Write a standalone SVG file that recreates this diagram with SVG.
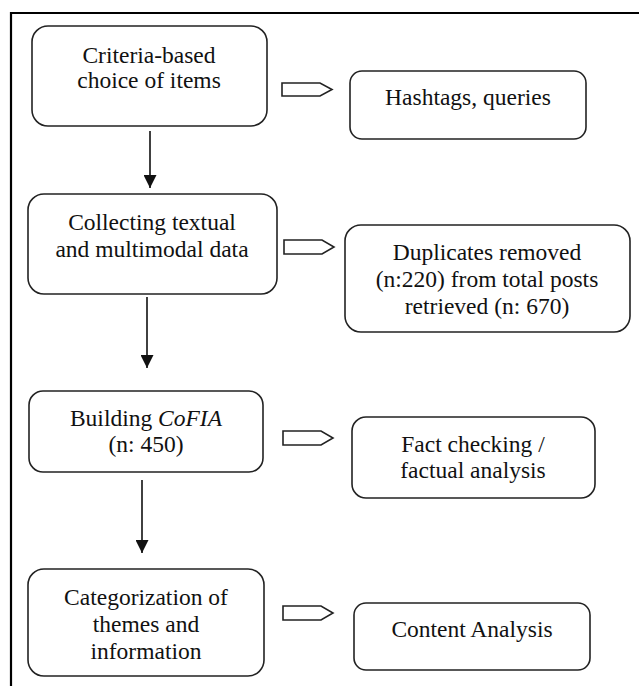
<svg xmlns="http://www.w3.org/2000/svg" width="639" height="686" viewBox="0 0 639 686">
<defs>
<style>
.box{fill:#fff;stroke:#222;stroke-width:1.6}
.blk{fill:#fff;stroke:#222;stroke-width:1.6;stroke-linejoin:miter}
.t{font-family:'Liberation Serif','Tinos','DejaVu Serif',serif;font-size:23.5px;fill:#111;text-anchor:middle}
.ln{stroke:#111;stroke-width:1.6;fill:none}
</style>
<marker id="ah" markerWidth="13" markerHeight="13" refX="13" refY="6.5" orient="auto" markerUnits="userSpaceOnUse">
<path d="M0,0 L13,6.5 L0,13 Z" fill="#111"/>
</marker>
</defs>
<rect width="639" height="686" fill="#fff"/>
<path d="M11,686 L11,13 L639,13" fill="none" stroke="#000" stroke-width="2.2"/>

<g id="n1" font-family="Liberation Serif, serif"><rect class="box" x="32" y="26" width="235" height="100" rx="16"/>
<text class="t" x="149" y="63">Criteria-based</text><text class="t" x="149" y="88">choice of items</text></g>
<g id="n2" font-family="Liberation Serif, serif"><rect class="box" x="350" y="71" width="236" height="68" rx="12"/>
<text class="t" x="468" y="105">Hashtags, queries</text></g>
<g id="n3" font-family="Liberation Serif, serif"><rect class="box" x="28" y="194" width="249" height="100" rx="16"/>
<text class="t" x="152" y="230">Collecting textual</text><text class="t" x="152" y="257">and multimodal data</text></g>
<g id="n4" font-family="Liberation Serif, serif"><rect class="box" x="345" y="225" width="285" height="107" rx="16"/>
<text class="t" x="487" y="260">Duplicates removed</text><text class="t" x="487" y="287">(n:220) from total posts</text><text class="t" x="487" y="314">retrieved (n: 670)</text></g>
<g id="n5" font-family="Liberation Serif, serif"><rect class="box" x="29" y="391" width="234" height="81" rx="14"/>
<text class="t" x="146" y="426">Building <tspan font-style="italic">CoFIA</tspan></text><text class="t" x="146" y="452">(n: 450)</text></g>
<g id="n6" font-family="Liberation Serif, serif"><rect class="box" x="352" y="417" width="243" height="81" rx="14"/>
<text class="t" x="473" y="452">Fact checking /</text><text class="t" x="473" y="478">factual analysis</text></g>
<g id="n7" font-family="Liberation Serif, serif"><rect class="box" x="28" y="569" width="236" height="107" rx="16"/>
<text class="t" x="146" y="605">Categorization of</text><text class="t" x="146" y="632">themes and</text><text class="t" x="146" y="659">information</text></g>
<g id="n8" font-family="Liberation Serif, serif"><rect class="box" x="354" y="603" width="236" height="67" rx="12"/>
<text class="t" x="472" y="637">Content Analysis</text></g>

<g id="connectors">
<line class="ln" x1="150" y1="131" x2="150" y2="188" marker-end="url(#ah)"/>
<line class="ln" x1="147" y1="297" x2="147" y2="368" marker-end="url(#ah)"/>
<line class="ln" x1="142" y1="480" x2="142" y2="553" marker-end="url(#ah)"/>
<polygon class="blk" points="282,83 320,83 332,89.5 320,96 282,96"/>
<polygon class="blk" points="284,240 322,240 334,247 322,254 284,254"/>
<polygon class="blk" points="283,431 321,431 333,438 321,445 283,445"/>
<polygon class="blk" points="283,606 321,606 333,613 321,620 283,620"/>
</g>
</svg>
